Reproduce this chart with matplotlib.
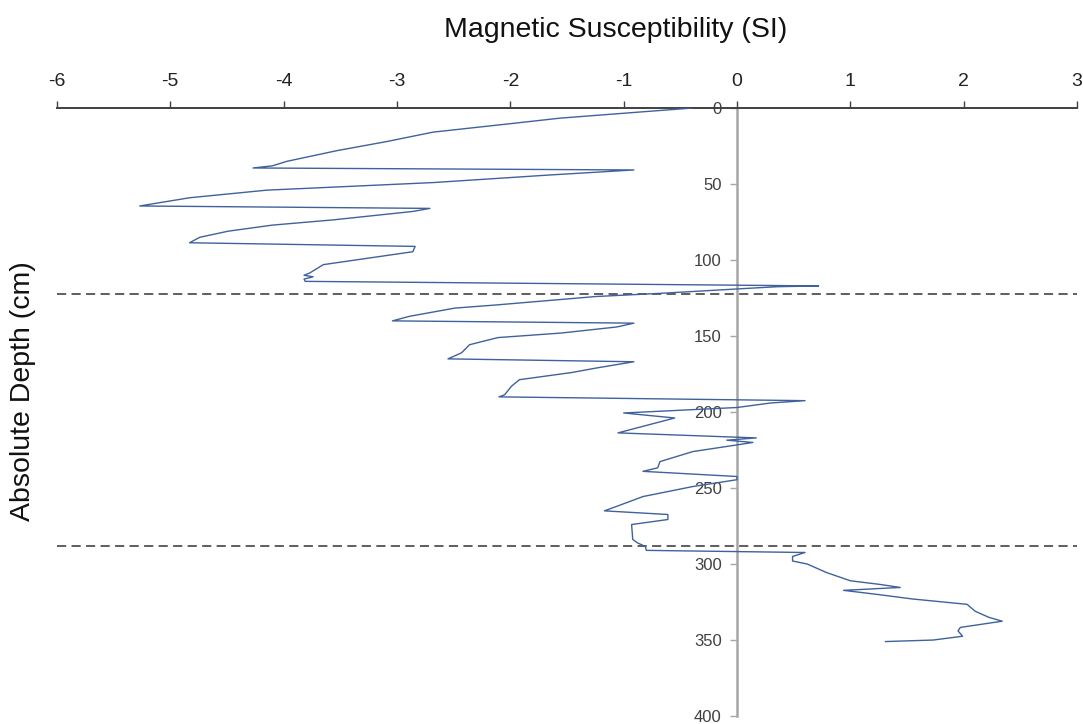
import numpy as np
import matplotlib.pyplot as plt

plt.rcParams['font.family'] = ['Liberation Sans', 'DejaVu Sans']
plt.rcParams['axes.unicode_minus'] = False

# magnetic susceptibility log down the core
depth_cm = [0, 2.6, 6.6, 10.5, 15.8, 22, 28, 35, 38, 39.4,
            40.7, 44, 49, 54, 59, 64.4,
            66, 68, 73.6, 77, 81, 85, 88.6,
            91, 94.5, 103, 108.5, 110, 111, 112.5, 114,
            117, 117.5, 119, 121.7, 124, 129.5, 131.6, 137, 140,
            141.5, 144, 148, 151, 155.7, 161, 165,
            166.9, 171, 174, 178.7, 183, 188.6, 190,
            192.5, 194, 197, 200.6, 203.9, 213.7,
            217, 218.5, 220, 221.6, 226, 232.6, 236.7, 239,
            242.4, 244.5, 249, 255.6, 262, 265,
            267.4, 270.7, 274, 283.8, 286, 288.4, 291,
            292.4, 295, 298, 300, 305.6, 311, 313.4, 315.4,
            317.3, 320, 323, 326.5, 331, 335, 337.6,
            341.7, 344, 347.5, 350, 351]
susceptibility = [-0.40, -0.86, -1.56, -2.03, -2.68, -3.09, -3.53, -3.97, -4.10, -4.27,
                  -0.91, -1.65, -2.68, -4.15, -4.83, -5.27,
                  -2.71, -2.86, -3.57, -4.10, -4.49, -4.74, -4.83,
                  -2.84, -2.86, -3.65, -3.77, -3.82, -3.74, -3.82, -3.81,
                  0.72, 0.36, 0.0, -0.63, -1.25, -2.12, -2.49, -2.89, -3.04,
                  -0.91, -1.06, -1.55, -2.11, -2.36, -2.43, -2.55,
                  -0.91, -1.24, -1.46, -1.92, -1.99, -2.05, -2.10,
                  0.60, 0.30, 0.0, -1.0, -0.55, -1.05,
                  0.17, -0.09, 0.14, 0.0, -0.39, -0.68, -0.70, -0.83,
                  0.0, 0.0, -0.39, -0.83, -1.06, -1.17,
                  -0.61, -0.61, -0.93, -0.92, -0.88, -0.81, -0.80,
                  0.60, 0.49, 0.49, 0.62, 0.79, 1.0, 1.26, 1.44,
                  0.94, 1.24, 1.55, 2.03, 2.10, 2.22, 2.34,
                  1.97, 1.95, 1.99, 1.73, 1.31]

# unit boundaries
boundaries = [122, 288]

x_ticks = [-6, -5, -4, -3, -2, -1, 0, 1, 2, 3]
y_ticks = [0, 50, 100, 150, 200, 250, 300, 350, 400]

fig = plt.figure(figsize=(10.83, 7.24), dpi=100)
ax = fig.add_axes([0.0526, 0.011, 0.9419, 0.8397])

ax.plot(susceptibility, depth_cm, color='#3f619c', linewidth=1.0, zorder=3)
for b in boundaries:
    ax.axhline(b, color='#333333', linestyle=(0, (6, 3.5)), linewidth=1.1, zorder=2)

ax.set_xlim(-6, 3)
ax.set_ylim(400, 0)

# depth axis sits on x = 0, value axis along the top
ax.spines['left'].set_position(('data', 0))
ax.spines['left'].set_color('#a6a6a6')
ax.spines['left'].set_linewidth(1.8)
ax.spines['left'].set_zorder(1)
ax.spines['right'].set_visible(False)
ax.spines['bottom'].set_visible(False)
ax.spines['top'].set_color('#404040')
ax.spines['top'].set_linewidth(1.4)

ax.xaxis.set_ticks_position('top')
ax.xaxis.set_label_position('top')
ax.set_xticks(x_ticks)
ax.set_yticks(y_ticks)
ax.tick_params(axis='x', direction='out', length=5, width=1, color='#404040',
               labelsize=14, pad=8, labelcolor='#222222')
ax.tick_params(axis='y', direction='out', length=5, width=1, color='#a6a6a6',
               labelsize=12, pad=6, labelcolor='#404040')

fig.text(0.568, 0.958, 'Magnetic Susceptibility (SI)', ha='center', va='center',
         fontsize=20.5, color='#111111')
fig.text(0.021, 0.46, 'Absolute Depth (cm)', ha='center', va='center',
         rotation=90, fontsize=20.5, color='#111111')

fig.savefig('out.png', dpi=100)
